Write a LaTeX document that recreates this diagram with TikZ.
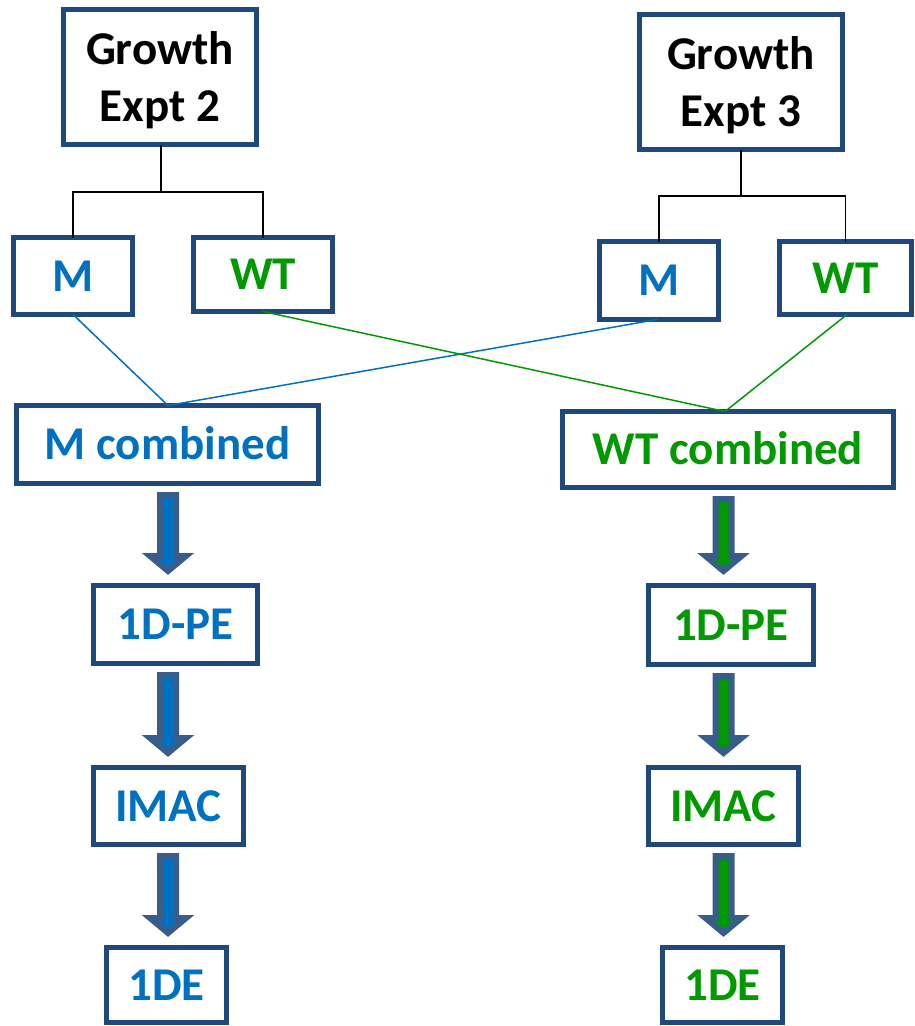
\documentclass[tikz,border=0pt]{standalone}
\usepackage{fontspec}
\setmainfont{Carlito}
\usetikzlibrary{calc}
\definecolor{boxc}{HTML}{1F497D}
\definecolor{arrc}{HTML}{385D8A}
\definecolor{tblue}{HTML}{0070C0}
\definecolor{tgreen}{HTML}{009900}
\newcommand\blockarr[4]{%
  \draw[draw=arrc, line width=6pt, fill=#4, line join=miter, miter limit=10]
    let \p1=(#1.south -| #3), \p2=(#2.north -| #3) in
    (\x1-8pt,\y1-11.5pt) -- (\x1+8pt,\y1-11.5pt) -- (\x1+8pt,\y2+29.5pt)
    -- (\x1+18pt,\y2+29.5pt) -- (\x1,\y2+14.5pt) -- (\x1-18pt,\y2+29.5pt)
    -- (\x1-8pt,\y2+29.5pt) -- cycle;}
\begin{document}
\begin{tikzpicture}[x=1pt,y=-1pt,
  boxbase/.style={draw=boxc, line width=5pt, fill=white, inner sep=0pt, outer sep=0pt,
    font=\fontsize{47}{57}\selectfont\bfseries, align=center},
  box/.style={boxbase, text depth=0pt},
  bl/.style={boxbase, text height=30.3pt, text depth=0pt, text=tblue},
  gr/.style={boxbase, text height=30.3pt, text depth=0pt, text=tgreen},
  tree/.style={draw=black, line width=1.5pt},
  bline/.style={draw=tblue, line width=1.5pt},
  gline/.style={draw=tgreen, line width=1.5pt}]
\useasboundingbox (0,0) rectangle (915,1026);
% top boxes
\node[box, minimum width=193pt, minimum height=135pt] (g2) at (160,77) {Growth\\Expt 2};
\node[box, minimum width=203pt, minimum height=135pt] (g3) at (741,82) {Growth\\Expt 3};
\node[bl, minimum width=119pt, minimum height=77pt] (m2) at (73,276) {M};
\node[gr, minimum width=139pt, minimum height=74pt] (wt2) at (263,274.5) {WT};
\node[bl, minimum width=119pt, minimum height=78pt] (m3) at (659,280.5) {M};
\node[gr, minimum width=132pt, minimum height=73pt] (wt3) at (845.5,278) {WT};
% combined
\node[bl, minimum width=302pt, minimum height=78pt] (mc) at (167.5,444.5) {M combined};
\node[gr, minimum width=331pt, minimum height=76pt] (wc) at (728,449.5) {WT combined};
% left column
\node[bl, minimum width=164pt, minimum height=78pt] (pe1) at (175.5,624.5) {1D-PE};
\node[bl, minimum width=150pt, minimum height=77pt] (im1) at (168.5,806) {IMAC};
\node[bl, minimum width=120pt, minimum height=75pt] (de1) at (166.5,985) {1DE};
% right column
\node[gr, minimum width=165pt, minimum height=79pt] (pe2) at (731,625) {1D-PE};
\node[gr, minimum width=150pt, minimum height=77pt] (im2) at (723.5,806) {IMAC};
\node[gr, minimum width=120pt, minimum height=75pt] (de2) at (722.5,985) {1DE};
% tree connectors
\coordinate (j2) at (161,192);
\coordinate (j3) at (741,196);
\draw[tree] (g2.south -| j2) -- (j2);
\draw[tree] (j2) -| (m2.north);
\draw[tree] (j2) -| (wt2.north);
\draw[tree] (g3.south) -- (j3);
\draw[tree] (j3) -| (m3.north);
\draw[tree] (j3) -| (wt3.north);
% crossing lines
\coordinate (mcj) at (168,405.5);
\coordinate (wcj) at (725,411.5);
\draw[bline] (m2.south) -- (mcj) -- ($(m3.south)+(-2,0)$);
\draw[gline] (wt2.south) -- (wcj) -- ($(wt3.south)+(1.5,0)$);
% block arrows
\coordinate (colL) at (168,0);
\coordinate (colR) at (723.5,0);
\blockarr{mc}{pe1}{colL}{tblue}
\blockarr{pe1}{im1}{colL}{tblue}
\blockarr{im1}{de1}{colL}{tblue}
\blockarr{wc}{pe2}{colR}{tgreen}
\blockarr{pe2}{im2}{colR}{tgreen}
\blockarr{im2}{de2}{colR}{tgreen}
\end{tikzpicture}
\end{document}
